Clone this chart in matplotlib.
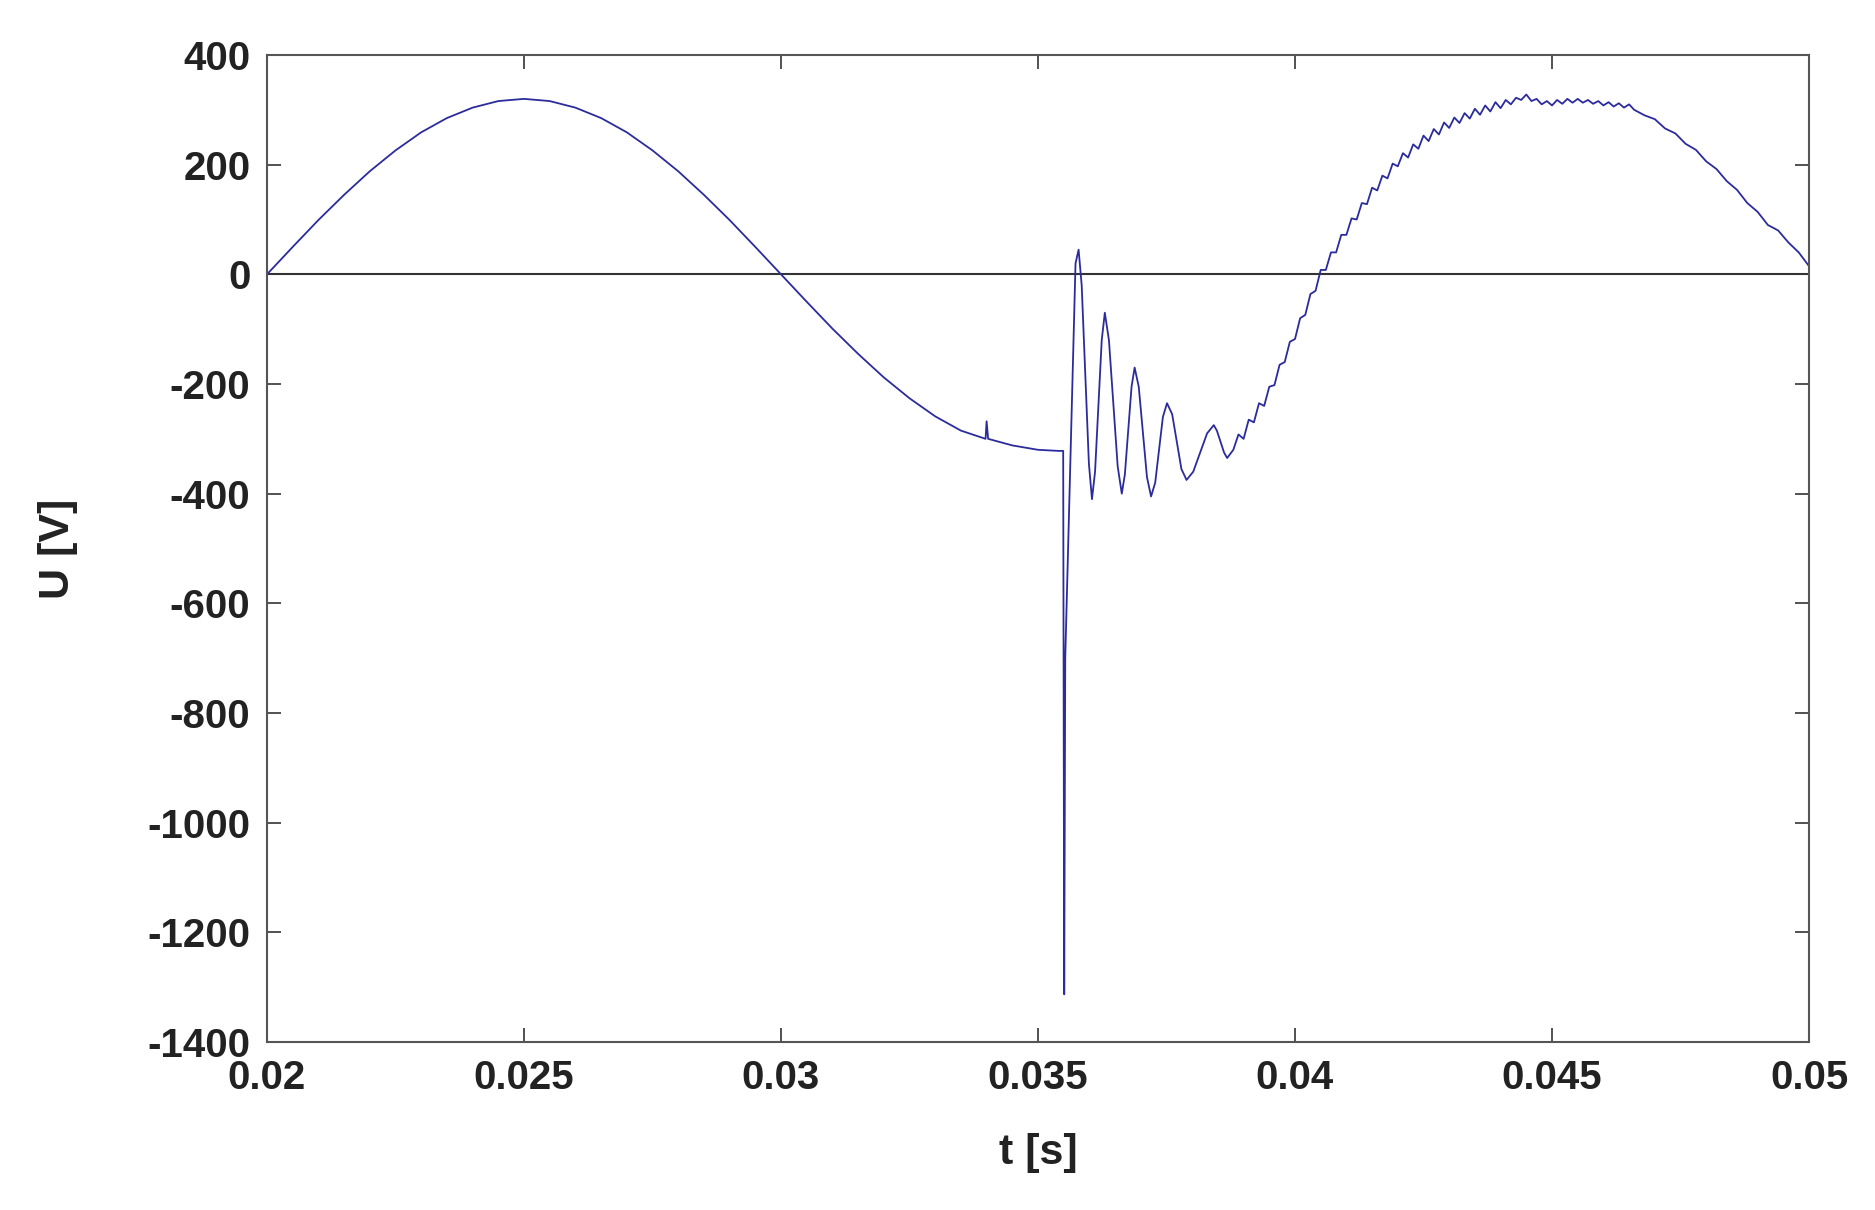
import matplotlib
matplotlib.use("Agg")
import matplotlib.pyplot as plt

t_sine = [0.0200,0.0205,0.0210,0.0215,0.0220,0.0225,0.0230,0.0235,0.0240,0.0245,0.0250,
          0.0255,0.0260,0.0265,0.0270,0.0275,0.0280,0.0285,0.0290,0.0295,0.0300,
          0.0305,0.0310,0.0315,0.0320,0.0325,0.0330,0.0335,0.03398,0.03400,0.03403,0.0345,0.0350,0.0354]
u_sine = [0,50,99,145,188,226,259,285,304,316,320,
          316,304,285,259,226,188,145,99,50,0,
          -50,-99,-145,-188,-226,-259,-285,-300,-268,-300,-312,-320,-322]

t_trans = [0.03549,0.03551,0.03553,0.03573,0.03579,0.03585,0.03599,0.03605,0.03611,0.03624,0.03630,
           0.03638,0.03655,0.03663,0.03669,0.03682,0.03688,0.03696,0.03712,0.03720,0.03728,0.03743,
           0.03751,0.03761,0.03779,0.03789,0.03802,0.03829,0.03842,0.03848,0.03862,0.03868,0.0388]
u_trans = [-322,-1313,-700,20,45,-20,-345,-410,-360,-120,-70,
           -120,-350,-400,-365,-205,-170,-205,-370,-405,-380,-260,
           -235,-255,-355,-375,-360,-290,-275,-285,-325,-335,-320]

t_ripple = [round(0.0389 + 0.0001*i, 5) for i in range(78)]
u_ripple = [-292,-300,-265,-270,-235,-240,-205,-202,-165,-160,-123,-118,-80,-74,-36,-30,8,8,40,40,
            72,72,102,100,130,128,158,153,180,175,202,197,221,213,237,229,253,243,265,255,
            277,267,286,276,294,284,302,291,308,297,314,303,318,310,322,318,328,316,320,310,
            316,308,318,311,320,313,320,313,318,311,316,308,314,306,312,304,310,300]

t_tail = [0.0468,0.0470,0.0472,0.0474,0.0476,0.0478,0.0480,0.0482,0.0484,0.0486,0.0488,0.0490,0.0492,0.0494,0.0496,0.0498,0.0500]
u_tail = [290,283,266,257,238,227,206,192,170,154,130,114,90,80,58,40,15]

t = t_sine + t_trans + t_ripple + t_tail
u = u_sine + u_trans + u_ripple + u_tail

plt.rcParams['font.family'] = ['Liberation Sans', 'DejaVu Sans']
plt.rcParams['axes.unicode_minus'] = False
fig = plt.figure(figsize=(18.75, 12.1), dpi=100)
ax = fig.add_axes([267/1875, 1-1042/1210, (1809-267)/1875, (1042-55)/1210])
ax.axhline(0, color='#333333', lw=1.5)
ax.plot(t, u, color='#2b2b9e', lw=1.3)
ax.set_xlim(0.02, 0.05)
ax.set_ylim(-1400, 400)
ax.set_xticks([0.02,0.025,0.03,0.035,0.04,0.045,0.05])
ax.set_xticklabels(['0.02','0.025','0.03','0.035','0.04','0.045','0.05'])
ax.set_yticks(range(-1400, 401, 200))
ax.tick_params(direction='in', length=10, width=1.2, labelsize=29, pad=12, top=True, right=True, colors='#333333', labelcolor='#222222')
for lbl in ax.get_xticklabels() + ax.get_yticklabels():
    lbl.set_fontweight('bold')
for s in ax.spines.values():
    s.set_color('#555555'); s.set_linewidth(1.5)
ax.set_xlabel('t [s]', fontsize=31, fontweight='bold', color='#222222', labelpad=26)
ax.set_ylabel('U [V]', fontsize=31, fontweight='bold', color='#222222', labelpad=50)
fig.savefig('out.png', dpi=100, facecolor='white')
